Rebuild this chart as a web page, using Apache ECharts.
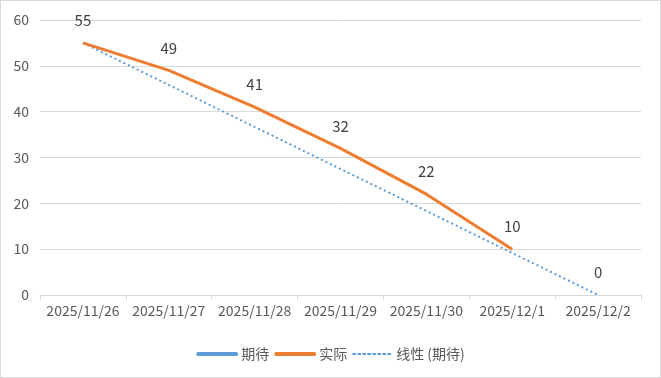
<!DOCTYPE html>
<html>
<head>
<meta charset="utf-8">
<script src="https://cdn.jsdelivr.net/npm/echarts@6/dist/echarts.min.js"></script>
<style>
  html, body { margin: 0; padding: 0; background: #fff; }
  #chart { width: 659px; height: 376px; border: 1px solid #d9d9d9; }
</style>
</head>
<body>
<div id="chart"></div>
<script>
  // data
  var dates = ['2025/11/26', '2025/11/27', '2025/11/28', '2025/11/29', '2025/11/30', '2025/12/1', '2025/12/2'];
  var planned = [55, null, null, null, null, null, 0];
  var actual = [55, 49, 41, 32, 22, 10, null];
  var yTicks = { min: 0, max: 60, interval: 10 };

  var font = '"Noto Sans CJK SC", "Liberation Sans", sans-serif';
  var chart = echarts.init(document.getElementById('chart'));
  var option = {
    animation: false,
    textStyle: { fontFamily: font },
    grid: { left: 39, right: 19, top: 19, bottom: 82 },
    legend: {
      bottom: 11,
      itemWidth: 38,
      itemHeight: 10,
      itemGap: 5,
      itemStyle: { opacity: 0 },
      lineStyle: { width: 4, cap: 'round' },
      textStyle: { color: '#595959', fontSize: 14, fontFamily: font },
      data: [
        { name: '期待' },
        { name: '实际' },
        { name: '线性 (期待)', lineStyle: { width: 2, cap: 'round', type: [2, 3] } }
      ]
    },
    xAxis: {
      type: 'category',
      data: dates,
      boundaryGap: true,
      axisLine: { lineStyle: { color: '#d9d9d9', width: 1 } },
      axisTick: { show: true, length: 5, lineStyle: { color: '#d9d9d9' } },
      axisLabel: { color: '#595959', fontSize: 14, margin: 9, interval: 0 }
    },
    yAxis: {
      type: 'value',
      min: yTicks.min,
      max: yTicks.max,
      interval: yTicks.interval,
      axisLine: { show: false },
      axisTick: { show: false },
      axisLabel: { color: '#595959', fontSize: 14, margin: 11 },
      splitLine: { lineStyle: { color: '#d9d9d9', width: 1 } }
    },
    series: [
      {
        name: '线性 (期待)',
        type: 'line',
        data: planned,
        connectNulls: true,
        symbol: 'none',
        color: '#5b9bd5',
        lineStyle: { color: '#5b9bd5', width: 2, type: [2, 3] },
        z: 1
      },
      {
        name: '实际',
        type: 'line',
        data: actual,
        showSymbol: true,
        symbolSize: 0,
        color: '#ed7d31',
        lineStyle: { color: '#ed7d31', width: 3 },
        label: { show: true, position: 'top', distance: 15, color: '#404040', fontSize: 15 },
        z: 3
      },
      {
        name: '期待',
        type: 'line',
        data: planned,
        showSymbol: true,
        symbolSize: 0,
        color: '#5b9bd5',
        lineStyle: { color: '#5b9bd5', width: 3 },
        label: {
          show: true, position: 'top', distance: 15, color: '#404040', fontSize: 15,
          formatter: function (p) { return p.dataIndex === dates.length - 1 ? p.value : ''; }
        },
        z: 2
      }
    ]
  };
  chart.setOption(option);
</script>
</body>
</html>
